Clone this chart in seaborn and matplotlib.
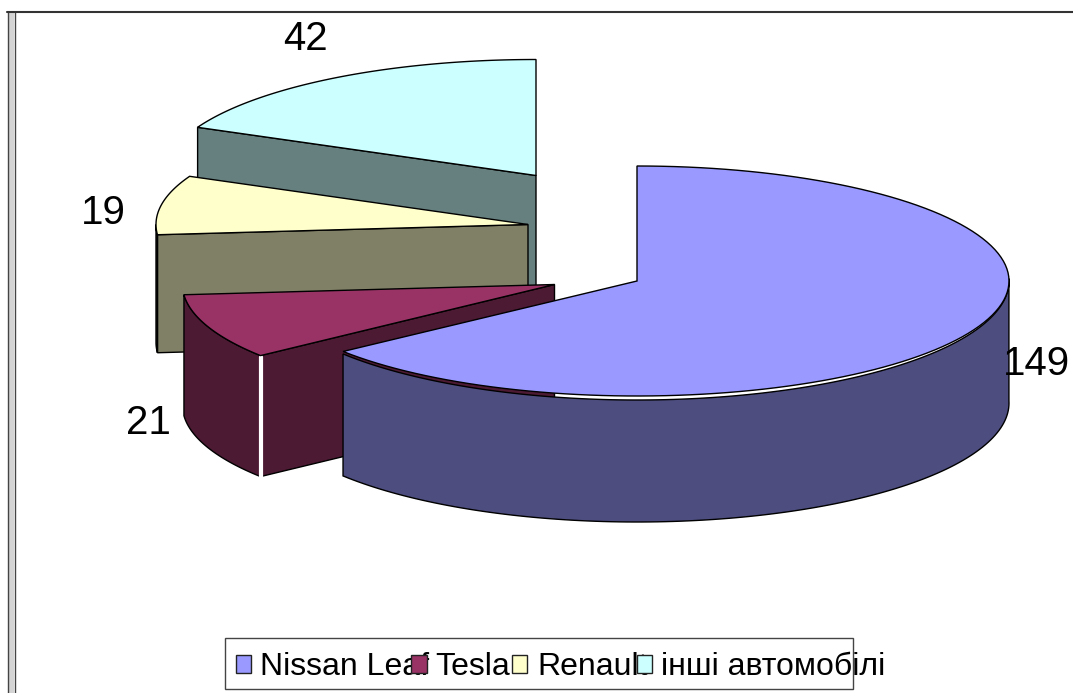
import numpy as np
import seaborn as sns
import matplotlib.pyplot as plt
from matplotlib.patches import Rectangle

# --- Data ---
labels = ["Nissan Leaf", "Tesla", "Renault", "інші автомобілі"]
values = [149, 21, 19, 42]
colors = ["#9999FF", "#993366", "#FFFFCC", "#CCFFFF"]

# --- Layout (pixels) ---
apex_x = [637, 554.5, 528, 536]
apex_y = [281, 284.5, 224.5, 175.5]
depth = [122, 121, 118, 112]
top_ry = [115, 116, 116, 116]
wall_ry = [119, 116, 116, 116]  # nissan wall sits a little below its top face
rx = 372
value_pos = [(1036, 375), (148, 434), (103, 224), (305.5, 50)]
swatch_box = [(236, 655, 15, 18), (411, 655, 16, 18), (512, 655, 15, 18), (637, 655, 15, 18)]
legend_text_x = [260, 435, 537, 661]

sns.set_theme(style="white")
plt.rcParams["font.family"] = ["Liberation Sans", "DejaVu Sans"]

fig = plt.figure(figsize=(10.73, 6.93), dpi=100)
ax = fig.add_axes([0, 0, 1, 1])
ax.set_xlim(0, 1073)
ax.set_ylim(693, 0)
ax.axis("off")

# slice angles, clockwise from 12 o'clock
edges = np.radians(np.concatenate([[0], np.cumsum(values)]) / sum(values) * 360)


def rim(cx, cy, a0, a1, ry):
    t = np.linspace(a0, a1, 120)
    return cx + rx * np.sin(t), cy - ry * np.cos(t)


def shade(c):
    return tuple(v * 0.5 for v in sns.color_palette([c])[0])


def draw_slice(i, z):
    cx, cy, d = apex_x[i], apex_y[i], depth[i]
    a0, a1 = edges[i], edges[i + 1]
    side = shade(colors[i])

    # flat wall on the start edge, nissan has its flat wall hidden
    x0, y0 = rim(cx, cy, a0, a0, top_ry[i])
    if i > 0:
        ax.fill([cx, x0[0], x0[0], cx], [cy, y0[0], y0[0] + d, cy + d],
                facecolor=side, edgecolor="black", lw=1, zorder=z)

    # curved wall, only the part in front
    lo, hi = max(a0, np.pi / 2), min(a1, 3 * np.pi / 2)
    if i == 0:
        lo = np.pi / 2 - 0.02
    if hi > lo:
        xt, yt = rim(cx, cy, lo, hi, wall_ry[i])
        xb, yb = rim(cx, cy + d, lo, hi, wall_ry[i])
        ax.fill(np.r_[xt, xb[::-1]], np.r_[yt, yb[::-1]], facecolor=side,
                edgecolor="black", lw=1, zorder=z)

    # white seam where the two tesla walls meet
    if i == 1:
        ax.plot([x0[0], x0[0]], [y0[0] + 1, y0[0] + d], color="white", lw=3, zorder=z)

    # top face
    xr, yr = rim(cx, cy, a0, a1, top_ry[i])
    ax.fill(np.r_[cx, xr], np.r_[cy, yr], facecolor=colors[i], edgecolor="black",
            lw=1, zorder=z + 0.5, joinstyle="miter")


for z, i in enumerate([3, 2, 1, 0]):
    draw_slice(i, z + 2)

# value labels
for v, (x, y) in zip(values, value_pos):
    ax.text(x, y, str(v), fontsize=29, color="black", ha="center", va="baseline", zorder=10)

# chart frame
ax.add_patch(Rectangle((8, 13), 6, 680, facecolor="#d4d4d4", edgecolor="none", zorder=0.5))
ax.plot([7.5, 7.5], [12, 693], color="#444444", lw=1, zorder=1)
ax.plot([14.5, 14.5], [12, 693], color="#444444", lw=1, zorder=1)
ax.plot([7, 1073], [12, 12], color="#333333", lw=1.5, zorder=1)

# legend box
ax.add_patch(Rectangle((225, 637.5), 628, 51.5, facecolor="white", edgecolor="#444444", lw=1, zorder=5))
for name, tx, c, box in zip(labels, legend_text_x, colors, swatch_box):
    ax.text(tx, 675, name, fontsize=23, color="black", ha="left", va="baseline", zorder=6)
    ax.add_patch(Rectangle(box[:2], box[2], box[3], facecolor=c, edgecolor="#222222", lw=1, zorder=7))

fig.savefig("out.png", dpi=100)
